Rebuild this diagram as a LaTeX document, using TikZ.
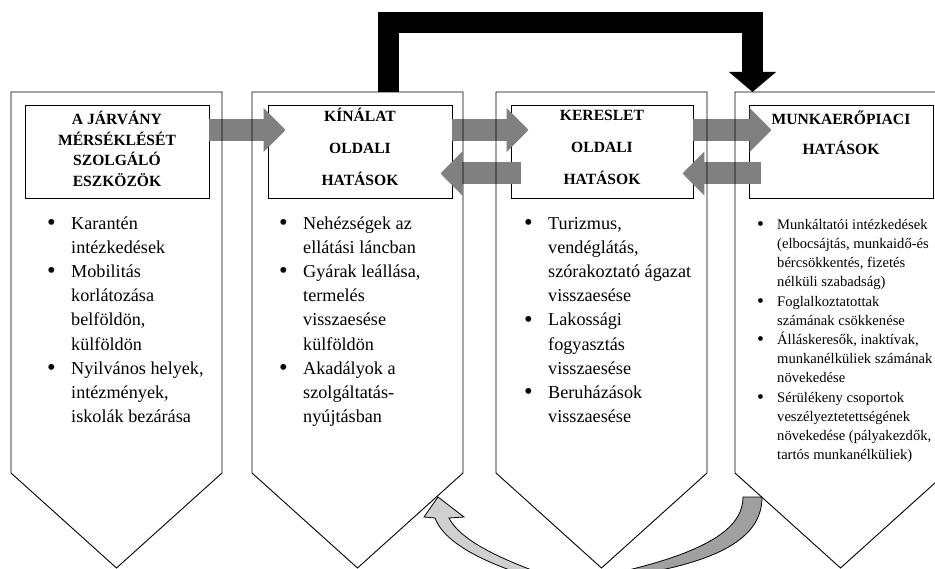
\documentclass[tikz,border=0pt]{standalone}
\usepackage{fontspec}
\setmainfont{Liberation Serif}
\usetikzlibrary{arrows.meta}
\definecolor{arrgray}{HTML}{808080}
\definecolor{lightarr}{HTML}{D0D0D0}
\definecolor{darkarr}{HTML}{A0A0A0}
\newlength{\bw}
\newcommand{\itm}{\makebox[\bw][l]{\raisebox{-0.07em}{\scalebox{1.35}{\textbullet}}}}
\newcommand{\nxt}{\hspace*{\bw}}

\begin{document}
\begin{tikzpicture}[x=1pt,y=-1pt,
  colbox/.style={draw,line width=0.9pt},
  hdr/.style={draw,fill=white,line width=0.9pt,inner sep=0pt,minimum height=93pt,align=center},
  lst/.style={anchor=north west,inner sep=0pt,align=left,font=\fontsize{18.2}{24.2}\selectfont\setlength{\bw}{24pt}},
  garrow/.style={arrgray,line width=22pt,-{Triangle[length=22pt,width=43pt]}},
  barrow/.style={black,line width=21pt,-{Triangle[length=20pt,width=46pt]}},
  curv/.style={draw,line width=0.8pt}]
\clip (0,0) rectangle (935,569);
% header boxes
\node[hdr,minimum width=184pt,font=\bfseries\fontsize{15.6}{20.5}\selectfont](h1) at (117,152){A JÁRVÁNY\\MÉRSÉKLÉSÉT\\SZOLGÁLÓ\\ESZKÖZÖK\strut};
\node[hdr,minimum width=184pt,font=\bfseries\fontsize{15.6}{32}\selectfont](h2) at (360,152){KÍNÁLAT\\OLDALI\\HATÁSOK\strut};
\node[hdr,minimum width=182pt,font=\bfseries\fontsize{15.6}{32}\selectfont](h3) at (602,152){KERESLET\\OLDALI\\HATÁSOK\strut};
\node[hdr,minimum width=184pt,font=\bfseries\fontsize{15.6}{30}\selectfont](h4) at (841,152){MUNKAERŐPIACI\\HATÁSOK\\\strut};
% gray arrows between the headers
\draw[garrow] ([yshift=22pt]h1.east) -- ([xshift=18pt,yshift=22pt]h2.west);
\draw[garrow] ([yshift=22pt]h2.east) -- ([xshift=18pt,yshift=22pt]h3.west);
\draw[garrow] ([yshift=22pt]h3.east) -- ([xshift=23pt,yshift=22pt]h4.west);
\draw[garrow] ([xshift=10pt,yshift=-21.5pt]h3.west) -- ([xshift=-12pt,yshift=-21.5pt]h2.east);
\draw[garrow] ([xshift=12pt,yshift=-21.5pt]h4.west) -- ([xshift=-11pt,yshift=-21.5pt]h3.east);
% black arrow over the top
\coordinate (t2) at (388,92);
\coordinate (t4) at (752.5,92);
\draw[barrow] (t2) -- (388,23) -| (t4);
% curved arrow at the bottom
\draw[curv,fill=darkarr] (743,497) -- (762,497) .. controls (762,530) and (735,558) .. (640,574)
  -- (620,572) .. controls (715,550) and (743,525) .. (743,497) -- cycle;
\draw[curv,fill=lightarr] (540,580) .. controls (490,565) and (445,545) .. (435,518) -- (424,517)
  -- (438,497) -- (464,517) -- (449,518) .. controls (460,540) and (500,560) .. (560,580) -- cycle;
% columns
\foreach \x in {11,252,496,735}
  \draw[colbox] (\x,92) -- ++(211,0) -- ++(0,381) -- ++(-105.5,95) -- ++(-105.5,-95) -- cycle;
% lists
\node[lst](l1) at (47,212){\strut\itm Karantén\\\nxt intézkedések\\\itm Mobilitás\\\nxt korlátozása\\\nxt belföldön,\\\nxt külföldön\\\itm Nyilvános helyek,\\\nxt intézmények,\\\nxt iskolák bezárása};
\node[lst](l2) at (279,212){\strut\itm Nehézségek az\\\nxt ellátási láncban\\\itm Gyárak leállása,\\\nxt termelés\\\nxt visszaesése\\\nxt külföldön\\\itm Akadályok a\\\nxt szolgáltatás-\\\nxt nyújtásban};
\node[lst](l3) at (524,212){\strut\itm Turizmus,\\\nxt vendéglátás,\\\nxt szórakoztató ágazat\\\nxt visszaesése\\\itm Lakossági\\\nxt fogyasztás\\\nxt visszaesése\\\itm Beruházások\\\nxt visszaesése};
\node[lst,font=\fontsize{14.6}{19.2}\selectfont\setlength{\bw}{20pt}](l4) at (757,215.6){\strut\itm Munkáltatói intézkedések\\\nxt (elbocsájtás, munkaidő-és\\\nxt bércsökkentés, fizetés\\\nxt nélküli szabadság)\\\itm Foglalkoztatottak\\\nxt számának csökkenése\\\itm Álláskeresők, inaktívak,\\\nxt munkanélküliek számának\\\nxt növekedése\\\itm Sérülékeny csoportok\\\nxt veszélyeztetettségének\\\nxt növekedése (pályakezdők,\\\nxt tartós munkanélküliek)};
\end{tikzpicture}
\end{document}
